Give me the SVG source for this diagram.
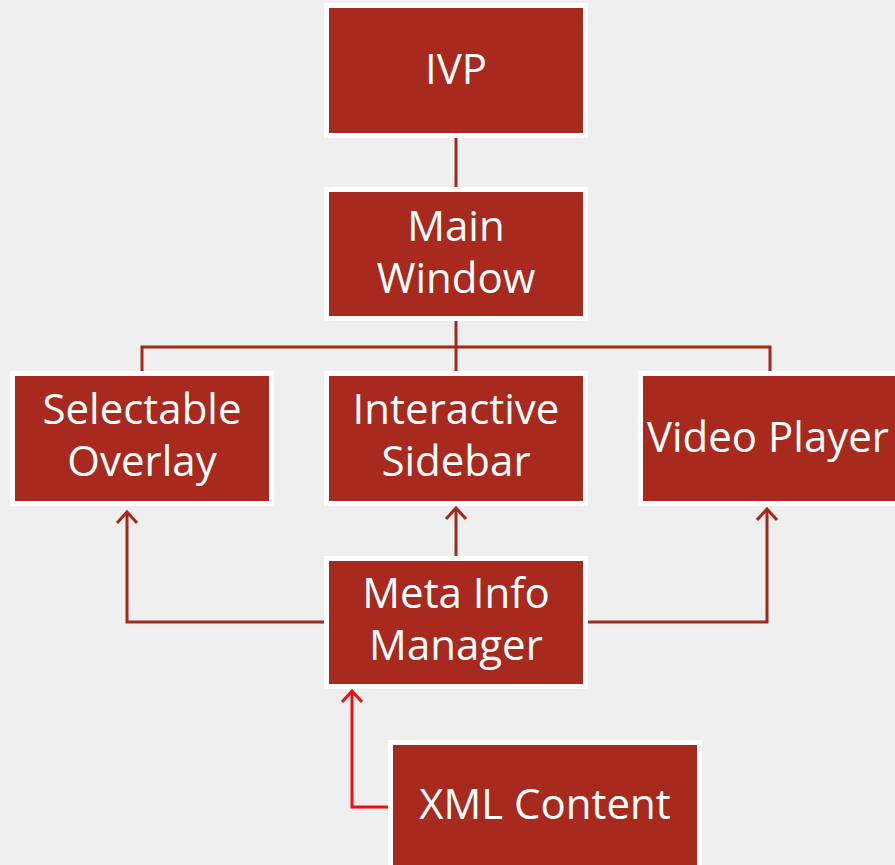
<svg xmlns="http://www.w3.org/2000/svg" width="895" height="865" viewBox="0 0 895 865">
<style>
.box{fill:#A8291E;stroke:#FFFFFF;stroke-width:5}
.t{font-family:"Open Sans","Liberation Sans",sans-serif;font-size:42px;fill:#FFFFFF;text-anchor:middle}
.c{fill:none;stroke:#A3291F;stroke-width:3}
.x{fill:none;stroke:#F01010;stroke-width:3}
</style>
<defs>
<marker id="ah" viewBox="0 0 24 24" refX="14" refY="12" markerWidth="24" markerHeight="24" markerUnits="userSpaceOnUse" orient="auto">
<path d="M3,2 L14,12 L3,22" fill="none" stroke="#A3291F" stroke-width="3"/>
</marker>
<marker id="ahr" viewBox="0 0 24 24" refX="14" refY="12" markerWidth="24" markerHeight="24" markerUnits="userSpaceOnUse" orient="auto">
<path d="M3,2 L14,12 L3,22" fill="none" stroke="#F01010" stroke-width="3"/>
</marker>
</defs>
<rect width="895" height="865" fill="#EFEFEF"/>
<g id="connectors">
<line class="c" x1="456" y1="137" x2="456" y2="190"/>
<line class="c" x1="456" y1="318" x2="456" y2="374"/>
<polyline class="c" points="142,374 142,347 770,347 770,374"/>
<path class="c" d="M324,622 H127 V512" marker-end="url(#ah)"/>
<path class="c" d="M456,558 V508" marker-end="url(#ah)"/>
<path class="c" d="M586,622 H767 V509" marker-end="url(#ah)"/>
<path class="x" d="M390,807 H352 V691" marker-end="url(#ahr)"/>
</g>
<g id="ivp">
<rect class="box" x="326.5" y="5.5" width="259" height="130"/>
<text class="t" x="456" y="84">IVP</text>
</g>
<g id="main-window">
<rect class="box" x="326.5" y="189.5" width="259" height="129"/>
<text class="t" x="456" y="241">Main</text>
<text class="t" x="456" y="293">Window</text>
</g>
<g id="selectable-overlay">
<rect class="box" x="12.5" y="373.5" width="259" height="130"/>
<text class="t" x="142" y="424">Selectable</text>
<text class="t" x="142" y="476">Overlay</text>
</g>
<g id="interactive-sidebar">
<rect class="box" x="326.5" y="373.5" width="259" height="130"/>
<text class="t" x="456" y="424">Interactive</text>
<text class="t" x="456" y="476">Sidebar</text>
</g>
<g id="video-player">
<rect class="box" x="640.5" y="373.5" width="259" height="130"/>
<text class="t" x="768" y="452">Video Player</text>
</g>
<g id="meta-info-manager">
<rect class="box" x="326.5" y="558.5" width="259" height="128"/>
<text class="t" x="456" y="608">Meta Info</text>
<text class="t" x="456" y="660">Manager</text>
</g>
<g id="xml-content">
<rect class="box" x="390.5" y="742.5" width="309" height="130"/>
<text class="t" x="545" y="819">XML Content</text>
</g>
</svg>
